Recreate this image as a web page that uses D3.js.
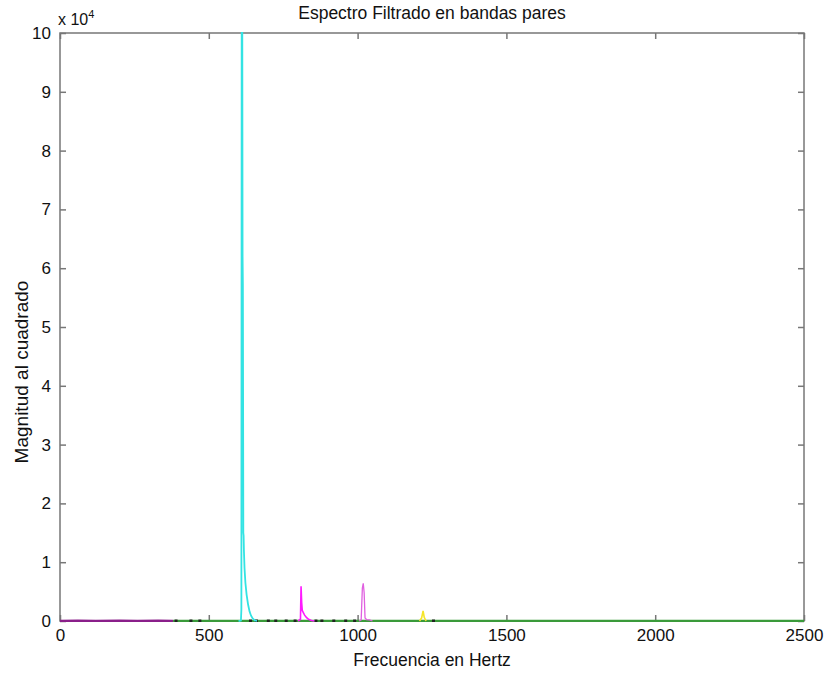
<!DOCTYPE html>
<html>
<head>
<meta charset="utf-8">
<script src="https://cdn.jsdelivr.net/npm/d3@7"></script>
<style>
  body { margin: 0; background: #fff; }
  text { font-family: "Liberation Sans", Arial, sans-serif; fill: #111; }
  .axis path { display: none; }
  .axis line { stroke: #777; stroke-width: 1.5; }
  .axis text { font-size: 17px; }
</style>
</head>
<body>
<script>
// Tick values
var xTicks = [0, 500, 1000, 1500, 2000, 2500];
var yTicks = [0, 10000, 20000, 30000, 40000, 50000, 60000, 70000, 80000, 90000, 100000];

// Spectrum pieces, [frequency, magnitude squared]
var purpleBand = [[0, 0], [60, 30], [120, 0], [200, 40], [260, 0], [330, 30], [380, 0]];
var greenBand = [[380, 0], [600, 20], [900, 0], [1300, 10], [1800, 0], [2500, 0]];
var cyanBand = [[600, 0], [608, 80], [609.5, 2000], [610.5, 100500], [612.5, 101000],
  [613.5, 62000], [614.5, 57000], [615.5, 30000], [616, 15000], [617, 14500],
  [618, 12000], [620, 9000], [623, 6500], [627, 4500], [632, 2800], [637, 1600],
  [642, 900], [648, 400], [655, 100], [662, 0]];
var magentaBand = [[800, 0], [808, 300], [810, 5900], [812, 3200], [814, 1800],
  [818, 1400], [822, 1000], [828, 600], [835, 300], [845, 100], [855, 0]];
var violetBand = [[1005, 0], [1012, 200], [1016, 5600], [1019, 6400], [1022, 4800],
  [1025, 500], [1030, 250], [1040, 200], [1050, 0]];
var yellowBand = [[1208, 0], [1215, 500], [1220, 1700], [1224, 600], [1230, 0]];
var blackDots = [390, 440, 470, 640, 660, 700, 725, 760, 790, 860, 880, 920, 960, 990, 1255];

var svgWidth = 828, svgHeight = 673;
var margin = { top: 33, right: 24, bottom: 52, left: 60 };
var chartWidth = svgWidth - margin.left - margin.right;
var chartHeight = svgHeight - margin.top - margin.bottom;

var svg = d3.select("body").append("svg")
  .attr("width", svgWidth)
  .attr("height", svgHeight);

var chartGroup = svg.append("g")
  .attr("transform", `translate(${margin.left}, ${margin.top})`);

var x = d3.scaleLinear().domain([0, 2500]).range([0, chartWidth]);
var y = d3.scaleLinear().domain([0, 100000]).range([chartHeight, 0]);

svg.append("defs").append("clipPath").attr("id", "plotClip")
  .append("rect").attr("width", chartWidth).attr("height", chartHeight + 2).attr("y", -1);

// Box first so the traces sit on top of it
chartGroup.append("rect")
  .attr("width", chartWidth).attr("height", chartHeight)
  .attr("fill", "none").attr("stroke", "#777").attr("stroke-width", 1.5);

// Axes with ticks pointing inward
chartGroup.append("g").classed("axis", true)
  .attr("transform", `translate(0, ${chartHeight})`)
  .call(d3.axisBottom(x).tickValues(xTicks).tickSize(-6).tickPadding(8).tickFormat(d3.format("d")));
chartGroup.append("g").classed("axis", true)
  .call(d3.axisTop(x).tickValues(xTicks).tickSize(-6).tickFormat(""));
chartGroup.append("g").classed("axis", true)
  .call(d3.axisLeft(y).tickValues(yTicks).tickSize(-6).tickPadding(9).tickFormat(d => d / 10000));
chartGroup.append("g").classed("axis", true)
  .attr("transform", `translate(${chartWidth}, 0)`)
  .call(d3.axisRight(y).tickValues(yTicks).tickSize(-6).tickFormat(""));

var drawLine = d3.line().x(d => x(d[0])).y(d => y(d[1]));
var plot = chartGroup.append("g").attr("clip-path", "url(#plotClip)");

// Baseline bands first, peaks on top
plot.append("path").attr("d", drawLine(purpleBand))
  .attr("fill", "none").attr("stroke", "#8a1f8a").attr("stroke-width", 2.4);
plot.append("path").attr("d", drawLine(greenBand))
  .attr("fill", "none").attr("stroke", "#3a9a3a").attr("stroke-width", 2.4);
plot.selectAll(".dot").data(blackDots).enter().append("rect")
  .attr("x", d => x(d) - 1.5).attr("y", y(0) - 1.5)
  .attr("width", 3).attr("height", 2.5).attr("fill", "#222");
plot.append("path").attr("d", drawLine(cyanBand))
  .attr("fill", "none").attr("stroke", "#33e3e3").attr("stroke-width", 1.8);
plot.append("path").attr("d", drawLine(magentaBand))
  .attr("fill", "none").attr("stroke", "#ff1aff").attr("stroke-width", 1.6);
plot.append("path").attr("d", drawLine(violetBand))
  .attr("fill", "none").attr("stroke", "#e060e0").attr("stroke-width", 1.3);
plot.append("path").attr("d", drawLine(yellowBand))
  .attr("fill", "none").attr("stroke", "#f5e52a").attr("stroke-width", 1.6);

// Exponent label
var expo = svg.append("text").attr("x", 58).attr("y", 25).style("font-size", "16px");
expo.append("tspan").text("x 10");
expo.append("tspan").attr("dy", -7).style("font-size", "11px").text("4");

// Titles
svg.append("text").attr("x", margin.left + chartWidth / 2).attr("y", 19)
  .attr("text-anchor", "middle").style("font-size", "17.5px")
  .text("Espectro Filtrado en bandas pares");
svg.append("text").attr("x", margin.left + chartWidth / 2).attr("y", 666)
  .attr("text-anchor", "middle").style("font-size", "17.5px")
  .text("Frecuencia en Hertz");
svg.append("text")
  .attr("transform", `translate(28, ${margin.top + chartHeight / 2 + 45}) rotate(-90)`)
  .attr("text-anchor", "middle").style("font-size", "19px")
  .text("Magnitud al cuadrado");
</script>
</body>
</html>
